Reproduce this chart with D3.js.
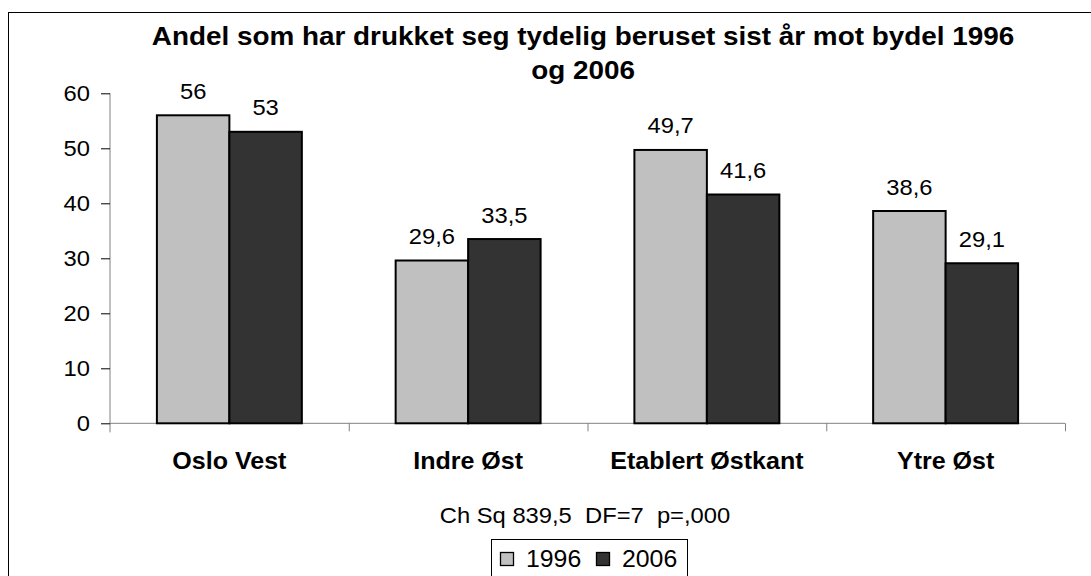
<!DOCTYPE html>
<html>
<head>
<meta charset="utf-8">
<script src="https://cdn.jsdelivr.net/npm/d3@7"></script>
<style>
  html, body { margin: 0; padding: 0; background: #fff; }
  svg { display: block; }
  text { font-family: "Liberation Sans", Arial, Helvetica, sans-serif; fill: #000; }
</style>
</head>
<body>
<svg id="chart" width="1091" height="576"></svg>
<script>
const categories = ["Oslo Vest", "Indre Øst", "Etablert Østkant", "Ytre Øst"];
const seriesNames = ["1996", "2006"];
const values1996 = [56, 29.6, 49.7, 38.6];
const values2006 = [53, 33.5, 41.6, 29.1];
const yTicks = [0, 10, 20, 30, 40, 50, 60];
const titleLines = ["Andel som har drukket seg tydelig beruset sist år mot bydel 1996", "og 2006"];
const subtitle = "Ch Sq 839,5  DF=7  p=,000";
const colors = ["#c0c0c0", "#333333"];

(function () {
const svg = d3.select("#chart");
const SX = 1.08;
const fmt = v => String(v).replace(".", ",");

function stext(g, x, y, str, size, weight, anchor) {
  return g.append("text")
    .attr("transform", `translate(${x},${y}) scale(${SX},1)`)
    .attr("text-anchor", anchor || "middle")
    .style("font-size", size + "px")
    .style("font-weight", weight || "normal")
    .style("white-space", "pre")
    .text(str);
}

// outer frame
svg.append("rect").attr("x", 8.5).attr("y", 12.5).attr("width", 1100).attr("height", 600)
  .attr("fill", "none").attr("stroke", "#000").attr("stroke-width", 1);

const pLeft = 110, pRight = 1065, pTop = 93.3, pBottom = 423.3;
const y = d3.scaleLinear().domain([0, 60]).range([pBottom, pTop]);
const x0 = d3.scaleBand().domain(categories).range([pLeft, pRight]).padding(0);
const x1 = d3.scaleBand().domain(seriesNames).range([0, x0.bandwidth()]).paddingInner(0).paddingOuter(0.647);
const xi = d3.scaleLinear().domain([0, categories.length]).range([pLeft, pRight]);

// title
titleLines.forEach((t, i) => stext(svg, 583, 45 + i * 34.3, t, 25.8, "bold"));

// y axis
const yAxis = svg.append("g").attr("transform", `translate(${pLeft},0)`)
  .call(d3.axisLeft(y).tickValues(yTicks).tickSize(9).tickFormat(""));
yAxis.select(".domain").attr("stroke", "#808080").attr("d", `M0,${pTop}V${pBottom + 9}`);
yAxis.selectAll(".tick line").attr("stroke", "#000");
yTicks.forEach(v => stext(svg, 90, y(v) + 7.5, String(v), 22, "normal", "end"));

// x axis (category boundary ticks)
const xAxis = svg.append("g").attr("transform", `translate(0,${pBottom})`)
  .call(d3.axisBottom(xi).tickValues(d3.range(1, categories.length + 1)).tickSize(8).tickFormat(""));
xAxis.select(".domain").attr("stroke", "#808080").attr("d", `M${pLeft},0H${pRight}`);
xAxis.selectAll(".tick line").attr("stroke", "#808080");

// bars
const data = categories.map((c, i) => ({ cat: c, vals: [values1996[i], values2006[i]] }));
const groups = svg.append("g").selectAll("g").data(data).join("g")
  .attr("transform", d => `translate(${x0(d.cat)},0)`);
groups.selectAll("rect").data(d => d.vals.map((v, k) => ({ v, k }))).join("rect")
  .attr("x", d => x1(seriesNames[d.k]))
  .attr("y", d => y(d.v))
  .attr("width", x1.bandwidth())
  .attr("height", d => y(0) - y(d.v))
  .attr("fill", d => colors[d.k])
  .attr("stroke", "#000").attr("stroke-width", 2);

// value labels
data.forEach(d => {
  d.vals.forEach((v, k) => {
    stext(svg, x0(d.cat) + x1(seriesNames[k]) + x1.bandwidth() / 2, y(v) - 16.5, fmt(v), 22, "normal");
  });
});

// category labels
categories.forEach(c => stext(svg, x0(c) + x0.bandwidth() / 2, 469, c, 23.2, "bold"));

// subtitle
stext(svg, 585, 523, subtitle, 22, "normal");

// legend
const lg = svg.append("g");
lg.append("rect").attr("x", 491.5).attr("y", 539.5).attr("width", 196).attr("height", 45)
  .attr("fill", "#fff").attr("stroke", "#000").attr("stroke-width", 1);
const legX = [500, 596];
seriesNames.forEach((s, k) => {
  lg.append("rect").attr("x", legX[k] + 0.5).attr("y", 552.5).attr("width", 13).attr("height", 13)
    .attr("fill", colors[k]).attr("stroke", "#000").attr("stroke-width", 1.3);
  stext(lg, legX[k] + 26, 567, s, 23, "normal", "start");
});
})();
</script>
</body>
</html>
